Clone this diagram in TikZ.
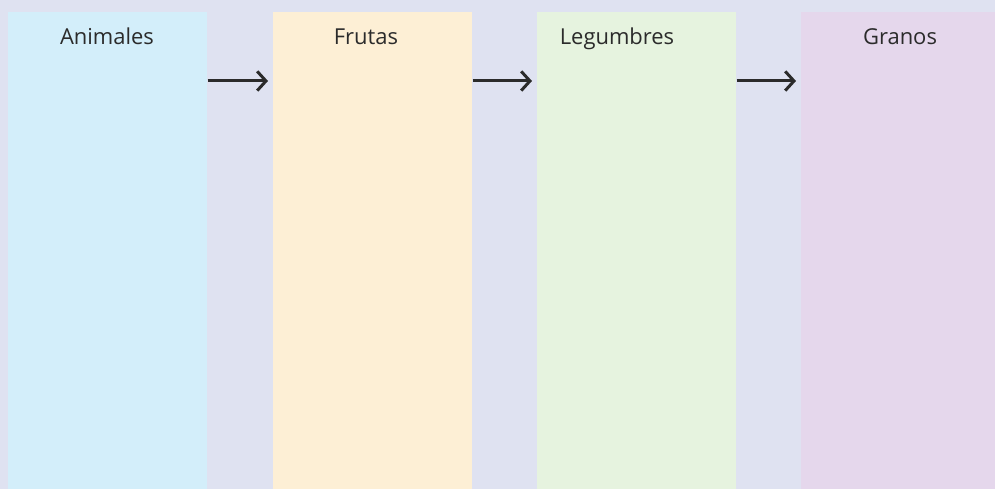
\documentclass[tikz,border=0pt]{standalone}
\usepackage{fontspec}
\setmainfont{Open Sans}
\usetikzlibrary{arrows.meta, positioning}
\definecolor{bgcol}{HTML}{DFE2F1}
\definecolor{animcol}{HTML}{D3EEFA}
\definecolor{frutcol}{HTML}{FDEFD5}
\definecolor{legucol}{HTML}{E6F3DF}
\definecolor{granocol}{HTML}{E5D7EC}
\definecolor{inkcol}{HTML}{2B2B2B}
\begin{document}
\begin{tikzpicture}[
    x=0.02cm, y=-0.02cm,
    column/.style={rectangle, minimum width=3.98cm, minimum height=9.6cm, inner sep=0pt, anchor=north west},
    title/.style={font=\fontsize{12.5}{14}\selectfont, text=inkcol, anchor=base, inner sep=0pt},
    flow/.style={draw=inkcol, line width=1.7pt, -{Straight Barb[length=5pt, width=11pt, line width=1.7pt]}},
]
% background
\fill[bgcol] (0,0) rectangle (995,489);
\useasboundingbox (0,0) rectangle (995,489);

% columns
\node[column, fill=animcol]  (animales)  at (8,12)   {};
\node[column, fill=frutcol]  (frutas)    at (273,12) {};
\node[column, fill=legucol]  (legumbres) at (537,12) {};
\node[column, fill=granocol] (granos)    at (801,12) {};

% titles
\node[title] (tanimales)  at (107,45) {Animales};
\node[title] (tfrutas)    at (366,45) {Frutas};
\node[title] (tlegumbres) at (617,45) {Legumbres};
\node[title] (tgranos)    at (900,45) {Granos};

% arrows
\draw[flow] ([yshift=-1.38cm]animales.north east)  -- ([xshift=-0.1cm, yshift=-1.38cm]frutas.north west);
\draw[flow] ([yshift=-1.38cm]frutas.north east)    -- ([xshift=-0.1cm, yshift=-1.38cm]legumbres.north west);
\draw[flow] ([yshift=-1.38cm]legumbres.north east) -- ([xshift=-0.1cm, yshift=-1.38cm]granos.north west);
\end{tikzpicture}
\end{document}
